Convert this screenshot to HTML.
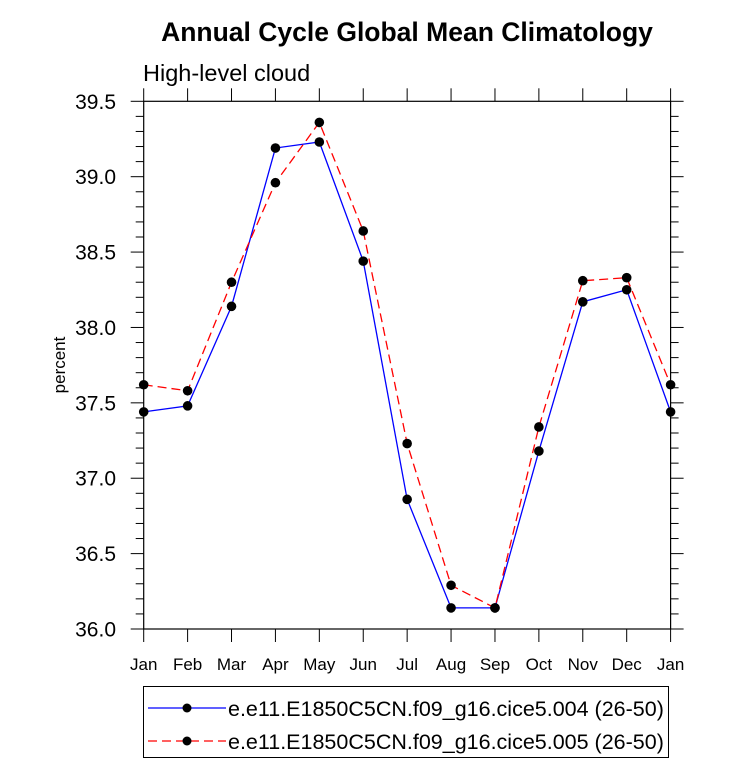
<!DOCTYPE html>
<html><head><meta charset="utf-8"><style>
body{margin:0;background:#fff;}
svg{display:block;font-family:"Liberation Sans",Arial,sans-serif;}
</style></head><body>
<svg id="chart" width="733" height="766">
<text x="407" y="41" text-anchor="middle" font-size="26.5" font-weight="bold">Annual Cycle Global Mean Climatology</text>
<text x="143" y="81" font-size="23.5">High-level cloud</text>
<text transform="translate(65,365) rotate(-90)" text-anchor="middle" font-size="17">percent</text>
<g id="axes"></g>
<g id="series"></g>
<rect x="143.5" y="686.5" width="525" height="71" fill="none" stroke="#000" stroke-width="1"/>
<g>
<line x1="148" y1="708" x2="226" y2="708" stroke="#0000ff" stroke-width="1.3"/>
<circle cx="187" cy="708" r="4.5" fill="#000"/>
<text x="228" y="716" font-size="21.5">e.e11.E1850C5CN.f09_g16.cice5.004 (26-50)</text>
</g>
<g>
<line x1="148" y1="741" x2="226" y2="741" stroke="#ff0000" stroke-width="1.3" stroke-dasharray="9,5"/>
<circle cx="187" cy="741" r="4.5" fill="#000"/>
<text x="228" y="749" font-size="21.5">e.e11.E1850C5CN.f09_g16.cice5.005 (26-50)</text>
</g>
</svg>
<script>
const months = ["Jan","Feb","Mar","Apr","May","Jun","Jul","Aug","Sep","Oct","Nov","Dec","Jan"];
const series004 = [37.44,37.48,38.14,39.19,39.23,38.44,36.86,36.14,36.14,37.18,38.17,38.25,37.44];
const series005 = [37.62,37.58,38.30,38.96,39.36,38.64,37.23,36.29,36.14,37.34,38.31,38.33,37.62];
const yTicks = ["36.0","36.5","37.0","37.5","38.0","38.5","39.0","39.5"];
const L=143.7,R=670.6,T=101.3,B=629,yMin=36,yMax=39.5;
const NS="http://www.w3.org/2000/svg";
function xs(i){return L+(R-L)*i/(months.length-1);}
function ys(v){return B-(v-yMin)/(yMax-yMin)*(B-T);}
function mk(tag,attrs,parent){const e=document.createElementNS(NS,tag);for(const k in attrs)e.setAttribute(k,attrs[k]);parent.appendChild(e);return e;}
const ax=document.getElementById('axes');
const frame=mk('rect',{x:L,y:T,width:R-L,height:B-T,fill:'none',stroke:'#000','stroke-width':1.2},ax);


months.forEach((m,i)=>{
  const x=xs(i);
  mk('line',{x1:x,y1:B,x2:x,y2:B+13,stroke:'#000'},ax);
  mk('line',{x1:x,y1:T,x2:x,y2:T-13,stroke:'#000'},ax);
  const t=mk('text',{x:x,y:B+41,'text-anchor':'middle','font-size':17},ax);
  t.textContent=m;
  
  
});
for(let k=0;k<=35;k++){
  const v=yMin+k*0.1,y=ys(v),major=k%5===0,len=major?13:8;
  mk('line',{x1:L,y1:y,x2:L-len,y2:y,stroke:'#000'},ax);
  mk('line',{x1:R,y1:y,x2:R+len,y2:y,stroke:'#000'},ax);
}
yTicks.forEach(s=>{
  const t=mk('text',{x:116,y:ys(parseFloat(s))+7.5,'text-anchor':'end','font-size':21},ax);
  t.textContent=s;
  
  
});
const sg=document.getElementById('series');
function draw(vals,color,dash,name){
  const g=mk('g',{},sg);
  
  
  mk('polyline',{points:vals.map((v,i)=>xs(i)+','+ys(v)).join(' '),fill:'none',stroke:color,'stroke-width':1.3,'stroke-dasharray':dash},g);
  vals.forEach((v,i)=>{
    const c=mk('circle',{cx:xs(i),cy:ys(v),r:4.8,fill:'#000'},g);
    
    
  });
}
draw(series004,'#0000ff','none','series-004');
draw(series005,'#ff0000','9,5','series-005');
</script>
</body></html>
